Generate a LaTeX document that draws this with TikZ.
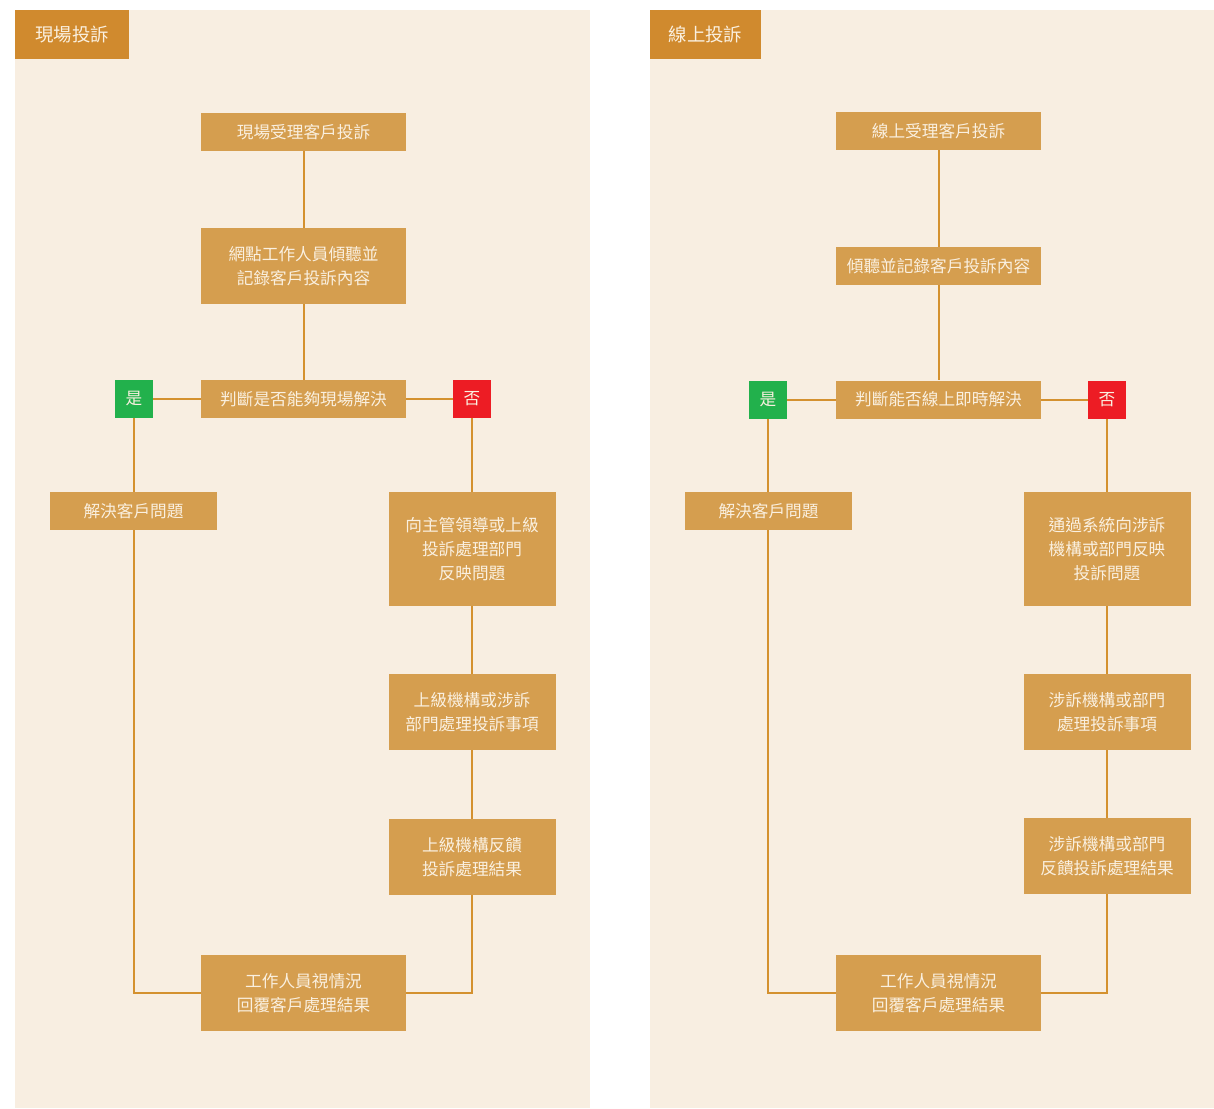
\documentclass[tikz,border=0pt]{standalone}
\usepackage{fontspec}
\newfontfamily\cjk{Noto Sans CJK TC}
\definecolor{panelbg}{HTML}{F8EEE1}
\definecolor{titlefill}{HTML}{D08A2E}
\definecolor{boxfill}{HTML}{D59E4F}
\definecolor{boxtext}{HTML}{FAF0E0}
\definecolor{linecol}{HTML}{D4912F}
\definecolor{yesgreen}{HTML}{22B14C}
\definecolor{nored}{HTML}{ED1C24}
\begin{document}
\begin{tikzpicture}[x=0.75pt,y=-0.75pt,
  every node/.style={font=\cjk\fontsize{12.5pt}{18pt}\selectfont, text=boxtext, inner sep=0pt, align=center},
  box/.style={fill=boxfill},
  wbox/.style={box, minimum width=153.75pt},
  mbox/.style={box, minimum width=125.25pt},
  hone/.style={minimum height=28.5pt},
  htwo/.style={minimum height=57pt},
  hthree/.style={minimum height=85.5pt},
  yesbox/.style={fill=yesgreen, minimum width=28.5pt, minimum height=28.5pt},
  nobox/.style={fill=nored, minimum width=28.5pt, minimum height=28.5pt},
  conn/.style={draw=linecol, line width=1.5pt},
  titlebox/.style={fill=titlefill, minimum height=36.75pt, font=\cjk\fontsize{13.8pt}{18pt}\selectfont}
]
\useasboundingbox (0,0) rectangle (1214,1109);
% panels
\fill[panelbg] (15,10) rectangle (590,1108);
\fill[panelbg] (650,10) rectangle (1214,1108);
\node[titlebox, minimum width=85.5pt] (t1) at (72,34.5) {現場投訴};
\node[titlebox, minimum width=83.25pt] (t2) at (705.5,34.5) {線上投訴};

% left flow
\node[wbox,hone] (a1) at (303.5,132) {現場受理客戶投訴};
\node[wbox,htwo] (a2) at (303.5,266) {網點工作人員傾聽並\\記錄客戶投訴內容};
\node[wbox,hone] (a3) at (303.5,399) {判斷是否能夠現場解決};
\node[yesbox] (ay) at (134,399) {是};
\node[nobox] (an) at (472,399) {否};
\node[mbox,hone] (as) at (133.5,511) {解決客戶問題};
\node[mbox,hthree] (r1) at (472,549) {向主管領導或上級\\投訴處理部門\\反映問題};
\node[mbox,htwo] (r2) at (472,712) {上級機構或涉訴\\部門處理投訴事項};
\node[mbox,htwo] (r3) at (472,857) {上級機構反饋\\投訴處理結果};
\node[wbox,htwo] (ae) at (303.5,993) {工作人員視情況\\回覆客戶處理結果};

% right flow
\node[wbox,hone] (b1) at (938.5,131) {線上受理客戶投訴};
\node[wbox,hone] (b2) at (938.5,266) {傾聽並記錄客戶投訴內容};
\node[wbox,hone] (b3) at (938.5,399.5) {判斷能否線上即時解決};
\node[yesbox] (by) at (768,399.5) {是};
\node[nobox] (bn) at (1107,399.5) {否};
\node[mbox,hone] (bs) at (768.5,511) {解決客戶問題};
\node[mbox,hthree] (s1) at (1107,549) {通過系統向涉訴\\機構或部門反映\\投訴問題};
\node[mbox,htwo] (s2) at (1107,712) {涉訴機構或部門\\處理投訴事項};
\node[mbox,htwo] (s3) at (1107,856) {涉訴機構或部門\\反饋投訴處理結果};
\node[wbox,htwo] (be) at (938.5,993) {工作人員視情況\\回覆客戶處理結果};

% connectors left
\draw[conn] (a1) -- (a2);
\draw[conn] (a2) -- (a3);
\draw[conn] (a3) -- (ay);
\draw[conn] (a3) -- (an);
\draw[conn] (ay) -- (ay |- as.north);
\draw[conn] (an) -- (r1);
\draw[conn] (r1) -- (r2);
\draw[conn] (r2) -- (r3);
\draw[conn] (ay |- as.south) |- (ae.west);
\draw[conn] (r3.south) |- (ae.east);

% connectors right
\draw[conn] (b1) -- (b2);
\draw[conn] (b2) -- (b3);
\draw[conn] (b3) -- (by);
\draw[conn] (b3) -- (bn);
\draw[conn] (by) -- (by |- bs.north);
\draw[conn] (bn) -- (s1);
\draw[conn] (s1) -- (s2);
\draw[conn] (s2) -- (s3);
\draw[conn] (by |- bs.south) |- (be.west);
\draw[conn] (s3.south) |- (be.east);
\end{tikzpicture}
\end{document}
